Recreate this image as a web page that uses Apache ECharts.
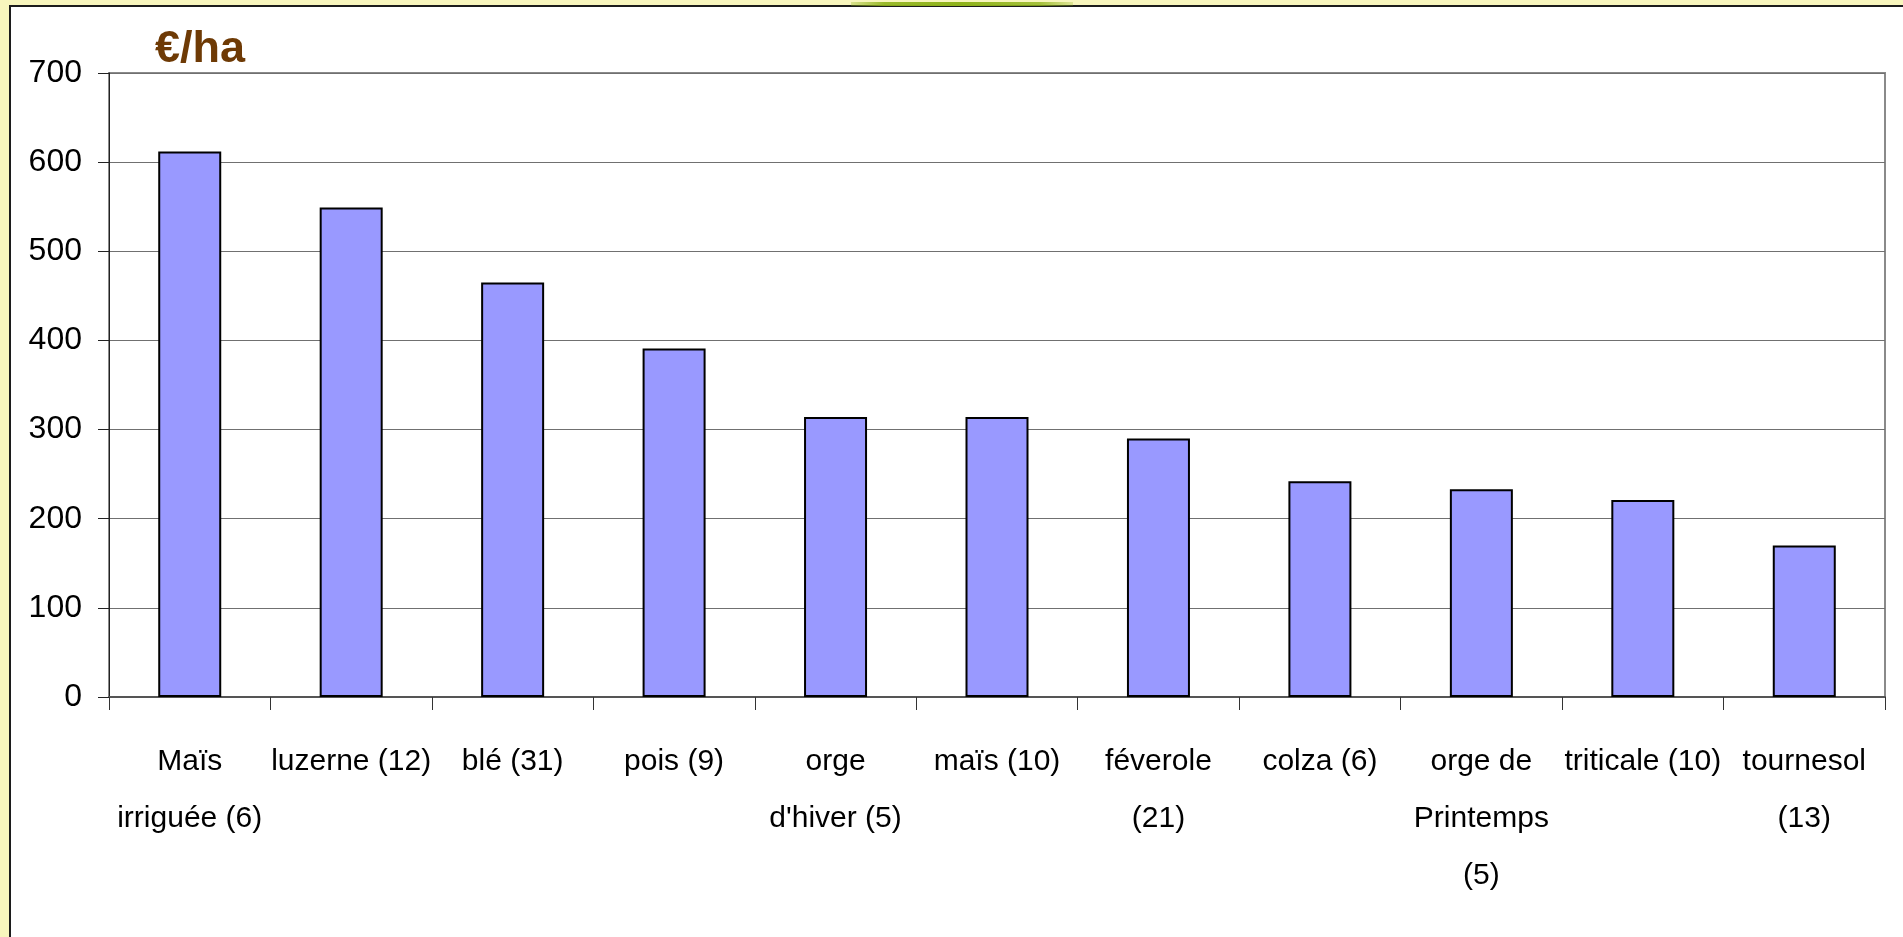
<!DOCTYPE html>
<html>
<head>
<meta charset="utf-8">
<script src="https://cdn.jsdelivr.net/npm/echarts@6/dist/echarts.min.js"></script>
<style>
html,body{margin:0;padding:0;background:#f8f6bd;overflow:hidden;}
#c{width:1903px;height:937px;}
</style>
</head>
<body>
<div id="c"></div>
<script>
const categories = [
  "Maïs\nirriguée (6)", "luzerne (12)", "blé (31)", "pois (9)", "orge\nd'hiver (5)",
  "maïs (10)", "féverole\n(21)", "colza (6)", "orge de\nPrintemps\n(5)", "triticale (10)", "tournesol\n(13)"
];
const values = [612, 549, 465, 391, 314, 314, 290, 242, 233, 221, 170];
const yTicks = { min: 0, max: 700, interval: 100 };
const unitLabel = "€/ha";

const sans = "'Liberation Sans', Arial, sans-serif";
const chart = echarts.init(document.getElementById('c'), null, { renderer: 'canvas' });
chart.setOption({
  backgroundColor: '#f8f6bd',
  animation: false,
  graphic: [
    { type: 'rect', z: -10, silent: true,
      shape: { x: 10, y: 6, width: 1900, height: 940 },
      style: { fill: '#ffffff', stroke: '#1c1c1c', lineWidth: 2 } },
    { type: 'rect', z: -9, silent: true,
      shape: { x: 851, y: 2, width: 222, height: 4 },
      style: { fill: new echarts.graphic.LinearGradient(0, 0, 1, 0, [
        { offset: 0, color: 'rgba(143,179,26,0.3)' },
        { offset: 0.15, color: 'rgba(143,179,26,0.9)' },
        { offset: 0.5, color: '#8fb31a' },
        { offset: 0.85, color: 'rgba(143,179,26,0.8)' },
        { offset: 1, color: 'rgba(143,179,26,0.25)' }
      ]) } }
  ],
  title: {
    text: unitLabel, left: 150, top: 22,
    textStyle: { fontFamily: sans, fontSize: 45, fontWeight: 'bold', color: '#6e3a05' }
  },
  grid: { left: 109, top: 73, right: 18, bottom: 240, show: true, borderColor: '#8a8a8a', borderWidth: 2, backgroundColor: 'transparent' },
  xAxis: {
    type: 'category', data: categories,
    axisLine: { lineStyle: { color: '#555', width: 2 } },
    axisTick: { show: true, length: 13, lineStyle: { color: '#333', width: 1 } },
    axisLabel: { interval: 0, margin: 36, fontFamily: sans, fontSize: 30, lineHeight: 57, color: '#000', align: 'center' }
  },
  yAxis: {
    type: 'value', min: yTicks.min, max: yTicks.max, interval: yTicks.interval,
    axisLine: { show: true, lineStyle: { color: '#222', width: 1 } },
    axisTick: { show: true, length: 11, lineStyle: { color: '#222' } },
    axisLabel: { margin: 27, fontFamily: sans, fontSize: 32, color: '#000' },
    splitLine: { lineStyle: { color: '#707070', width: 1 } }
  },
  series: [{
    type: 'bar', data: values, barWidth: 63,
    itemStyle: { color: '#9999ff', borderColor: '#000', borderWidth: 2 }
  }]
});
</script>
</body>
</html>
